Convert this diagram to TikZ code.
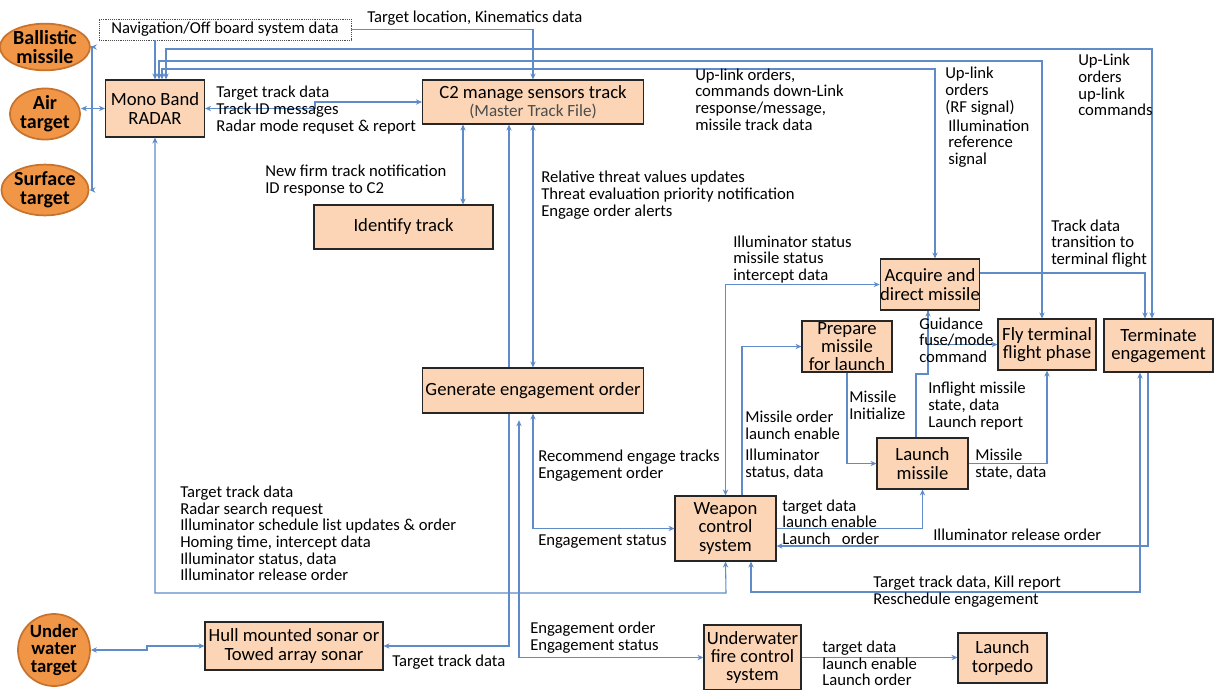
\documentclass[tikz,border=0pt]{standalone}
\usepackage{fontspec}
\setmainfont{Carlito}
\usetikzlibrary{shapes.geometric,arrows.meta}
\definecolor{peach}{RGB}{251,213,181}
\definecolor{tgtfill}{RGB}{240,150,70}
\definecolor{tgtedge}{RGB}{200,115,45}
\definecolor{wire}{RGB}{95,140,200}

\begin{document}
\begin{tikzpicture}[x=0.75pt,y=-0.75pt,
	box/.style={draw=black!85,line width=0.8pt,fill=peach,align=center,inner sep=0pt,font=\fontsize{14}{13.8}\selectfont},
	tgt/.style={ellipse,draw=tgtedge,line width=1.3pt,fill=tgtfill,align=center,inner sep=0pt,font=\bfseries\fontsize{15}{14}\selectfont},
	lbl/.style={anchor=west,align=left,inner sep=0pt,font=\fontsize{12.5}{12.5}\selectfont},
	link/.style={draw=wire,line width=0.8pt,>={Stealth[length=4.5pt,width=4pt]}}]
	\fill[white] (0,0) rectangle (1220,689);
	\useasboundingbox (0,0) rectangle (1220,689);
	% targets
	\node[tgt,minimum width=52.5pt,minimum height=35pt] (ball) at (45,47) {Ballistic\\missile};
	\node[tgt,minimum width=52.5pt,minimum height=37pt] (air) at (45,114) {Air\\target};
	\node[tgt,minimum width=52.5pt,minimum height=36pt] (surf) at (45,190) {Surface\\target};
	\node[tgt,minimum width=54pt,minimum height=42pt,font=\bfseries\fontsize{14}{13}\selectfont] (uw) at (54,650) {Under\\water\\target};
	% blocks
	\node[draw=black!70,densely dotted,fill=white,minimum width=189pt,minimum height=15.75pt,inner sep=0pt,font=\fontsize{12.5}{12.5}\selectfont] (nav) at (225,29.5) {Navigation/Off board system data};
	\node[box,minimum width=74.25pt,minimum height=42.75pt] (radar) at (155,108.5) {Mono Band\\RADAR};
	\node[box,minimum width=165.75pt,minimum height=33pt] (c2) at (533,102) {C2 manage sensors track\\{\color{black!70}\fontsize{12.8}{12.8}\selectfont(Master Track File)}};
	\node[box,minimum width=134.25pt,minimum height=33pt] (ident) at (403.5,227) {Identify track};
	\node[box,minimum width=165.75pt,minimum height=33.75pt] (gen) at (533,390.5) {Generate engagement order};
	\node[box,minimum width=73.5pt,minimum height=38.25pt] (acq) at (930,284.5) {Acquire and\\direct missile};
	\node[box,minimum width=67.5pt,minimum height=38.25pt] (prep) at (847,346.5) {Prepare\\missile\\for launch};
	\node[box,minimum width=73.5pt,minimum height=38.25pt] (fly) at (1047,344.5) {Fly terminal\\flight phase};
	\node[box,minimum width=81.75pt,minimum height=39.75pt] (term) at (1158.5,345.5) {Terminate\\engagement};
	\node[box,minimum width=68.25pt,minimum height=38.25pt] (launch) at (922.5,463.5) {Launch\\missile};
	\node[box,minimum width=75.75pt,minimum height=48.75pt] (wcs) at (725.5,528.5) {Weapon\\control\\system};
	\node[box,minimum width=133.5pt,minimum height=36pt] (hull) at (294,646) {Hull mounted sonar or\\Towed array sonar};
	\node[box,minimum width=72.75pt,minimum height=48.75pt] (ufcs) at (752.5,657.5) {Underwater\\fire control\\system};
	\node[box,minimum width=66.75pt,minimum height=37.5pt] (torp) at (1002.5,658) {Launch\\torpedo};
	% connectors
	\draw[link,->] (92,108) |- (ball.east);
	\draw[link,->] (92,108) |- (surf.east);
	\draw[link,<->] (air.east |- radar.west) -- (radar.west);
	\draw[link,->] (nav.south -| radar.north) -- (radar.north);
	\draw[link,->] (nav.east) -| (c2.north);
	\draw[link,<->] (166,0 |- radar.north) |- (1152,49) -- (1152,0 |- term.north);
	\draw[link,<->] (159,0 |- radar.north) |- (1042,61) -- (1042,0 |- fly.north);
	\draw[link,<->] (162,0 |- radar.north) |- (935,69) -- (935,0 |- acq.north);
	\draw[link,<->] (radar.east) -- (315,108.5) |- (c2.west);
	\draw[link,<->] (463,0 |- c2.south) -- (463,0 |- ident.north);
	\draw[link,->] (509,0 |- gen.north) -- (509,0 |- c2.south);
	\draw[link,<->] (c2.south) -- (gen.north);
	\draw[link,->] (509,0 |- gen.south) |- (hull.east);
	\draw[link,<->,shorten <=5pt] (519,0 |- gen.south) |- (ufcs.west);
	\draw[link,<->] (gen.south) |- (wcs.west);
	\draw[link,<->] (radar.south) |- (726,593) -- (wcs.south);
	\draw[link,<->] (751,0 |- wcs.south) |- (1140,592) -- (1140,0 |- term.south);
	\draw[link,->] (1148,0 |- term.south) |- (wcs.east |- 0,546);
	\draw[link,->] (wcs.east) -| (launch.south);
	\draw[link,<->] (wcs.north) |- (acq.west);
	\draw[link,->] (742,0 |- wcs.north) |- (prep.west);
	\draw[link,->] (prep.south) |- (launch.west);
	\draw[link,->] (916,0 |- launch.north) |- (928,374) -- (928,0 |- acq.south);
	\draw[link,->] (928,0 |- acq.south) |- (fly.west);
	\draw[link,->] (launch.east) -| (fly.south);
	\draw[link,->] (acq.east |- 0,273) -| (1145,0 |- term.north);
	\draw[link,->] (ufcs.east) -- (ufcs.east -| torp.west);
	\draw[link,<->] (uw.east) -- (147,0 |- uw.east) |- (hull.west);
	% labels
	\node[lbl] (l1) at (367,18) {Target location, Kinematics data};
	\node[lbl] (l2) at (216,110) {Target track data\\Track ID messages\\Radar mode requset \& report};
	\node[lbl] (l3) at (265,180.5) {New firm track notification\\ID response to C2};
	\node[lbl] (l4) at (695,99.5) {Up-link orders,\\commands down-Link\\response/message,\\missile track data};
	\node[lbl] (l5) at (945,91) {Up-link\\orders\\(RF signal)};
	\node[lbl] (l6) at (948,143.5) {Illumination\\reference\\signal};
	\node[lbl] (l7) at (1078,85) {Up-Link\\orders\\up-link\\commands};
	\node[lbl] (l8) at (1051,243.5) {Track data\\transition to\\terminal flight};
	\node[lbl] (l9) at (541,195) {Relative threat values updates\\Threat evaluation priority notification\\Engage order alerts};
	\node[lbl] (l10) at (733,259.5) {Illuminator status\\missile status\\intercept data};
	\node[lbl] (l11) at (919,340) {Guidance\\fuse/mode\\command};
	\node[lbl] (l12) at (928,406) {Inflight missile\\state, data\\Launch report};
	\node[lbl] (l13) at (849,405.5) {Missile\\Initialize};
	\node[lbl] (l14) at (745,425) {Missile order\\launch enable};
	\node[lbl] (l15) at (745,464.5) {Illuminator\\status, data};
	\node[lbl] (l16) at (975,464.5) {Missile\\state, data};
	\node[lbl] (l17) at (538,465.5) {Recommend engage tracks\\Engagement order};
	\node[lbl] (l18) at (538,542) {Engagement status};
	\node[lbl] (l19) at (782,522) {target data\\launch enable\\Launch~~~order};
	\node[lbl] (l20) at (933,535) {Illuminator release order};
	\node[lbl] (l21) at (873,591.5) {Target track data, Kill report\\Reschedule engagement};
	\node[lbl] (l22) at (180,533.5) {Target track data\\Radar search request\\Illuminator schedule list updates \& order\\Homing time, intercept data\\Illuminator status, data\\Illuminator release order};
	\node[lbl] (l23) at (392,662) {Target track data};
	\node[lbl] (l24) at (530,637.5) {Engagement order\\Engagement status};
	\node[lbl] (l25) at (822,663.5) {target data\\launch enable\\Launch order};
\end{tikzpicture}
\end{document}
